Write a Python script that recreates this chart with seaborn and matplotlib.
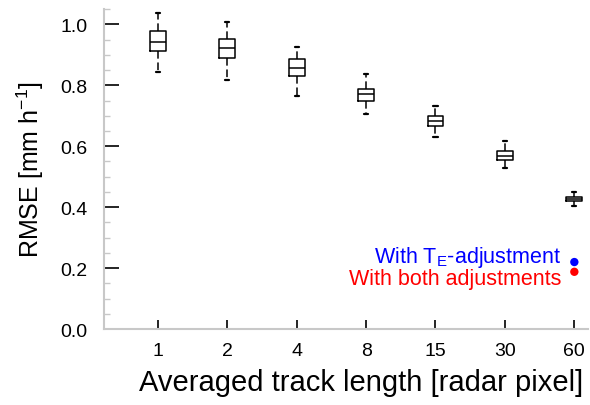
import matplotlib
matplotlib.use("Agg")
import matplotlib.pyplot as plt
import seaborn as sns
import pandas as pd
from matplotlib.ticker import MultipleLocator, FormatStrFormatter

# ---- data ----
track_lengths = ["1", "2", "4", "8", "15", "30", "60"]
whisker_low  = [0.845, 0.819, 0.764, 0.707, 0.631, 0.528, 0.404]
q1           = [0.913, 0.891, 0.829, 0.749, 0.668, 0.554, 0.420]
median       = [0.943, 0.921, 0.857, 0.770, 0.683, 0.569, 0.428]
q3           = [0.979, 0.952, 0.885, 0.789, 0.699, 0.585, 0.435]
whisker_high = [1.036, 1.008, 0.926, 0.836, 0.732, 0.617, 0.450]

adj_labels = ["With T$_\\mathregular{E}$-adjustment", "With both adjustments"]
adj_values = [0.220, 0.188]
adj_colors = ["#0000ff", "#ff0000"]

rows = []
for i, c in enumerate(track_lengths):
    for v in (whisker_low[i], q1[i], median[i], q3[i], whisker_high[i]):
        rows.append({"track": c, "rmse": v})
df = pd.DataFrame(rows)

sns.set_style("white")
plt.rcParams["font.family"] = ["Liberation Sans", "DejaVu Sans"]
plt.rcParams["mathtext.fontset"] = "custom"
plt.rcParams["mathtext.rm"] = "Liberation Sans"
plt.rcParams["mathtext.it"] = "Liberation Sans:italic"
plt.rcParams["text.color"] = "black"
plt.rcParams["axes.labelcolor"] = "black"
plt.rcParams["xtick.color"] = "black"
plt.rcParams["ytick.color"] = "black"

fig = plt.figure(figsize=(5.9, 4.06), dpi=100)
ax = fig.add_axes([0.176, 0.187, 0.821, 0.788])

sns.boxplot(data=df, x="track", y="rmse", order=track_lengths, ax=ax,
            whis=(0, 100), width=0.23, fill=False, color="black",
            linewidth=1.1, capwidths=0.06,
            whiskerprops=dict(linestyle=(0, (5, 2.5)), linewidth=1.1, color="black"),
            capprops=dict(linewidth=1.6, color="black"),
            boxprops=dict(color="black", linewidth=1.1),
            medianprops=dict(color="black", linewidth=1.1),
            showfliers=False)

n = len(track_lengths) - 1
sns.scatterplot(x=[n] * len(adj_values), y=adj_values, hue=adj_labels,
                palette=adj_colors, s=36, edgecolor="none", legend=False, ax=ax,
                zorder=5)
for lab, col, ty in zip(adj_labels, adj_colors, [0.2197, 0.1475]):
    ax.text(n - 0.19, ty, lab, color=col, ha="right", va="baseline", fontsize=15.5)

ax.set_xlim(-0.777, 6.2)
ax.set_ylim(0, 1.05)
ax.yaxis.set_major_locator(MultipleLocator(0.2))
ax.yaxis.set_minor_locator(MultipleLocator(0.05))
ax.yaxis.set_major_formatter(FormatStrFormatter("%.1f"))

for s in ["top", "right"]:
    ax.spines[s].set_visible(False)
for s in ["left", "bottom"]:
    ax.spines[s].set_color("#c8c8c8")
    ax.spines[s].set_linewidth(1.5)

ax.tick_params(axis="y", which="major", direction="in", length=11, width=1.2,
               color="black", labelsize=14, pad=12, left=True)
ax.tick_params(axis="y", which="minor", direction="in", length=4.5, width=1,
               color="#c8c8c8", left=True)
ax.tick_params(axis="x", which="major", direction="in", length=6.5, width=1.2,
               color="black", labelsize=14, pad=9, bottom=True)

ax.set_xlabel("Averaged track length [radar pixel]", fontsize=21, labelpad=7, x=0.531)
ax.set_ylabel("RMSE [mm h$^{\\mathregular{-1}}$]", fontsize=18, labelpad=10)

fig.savefig("out.png", dpi=100)
